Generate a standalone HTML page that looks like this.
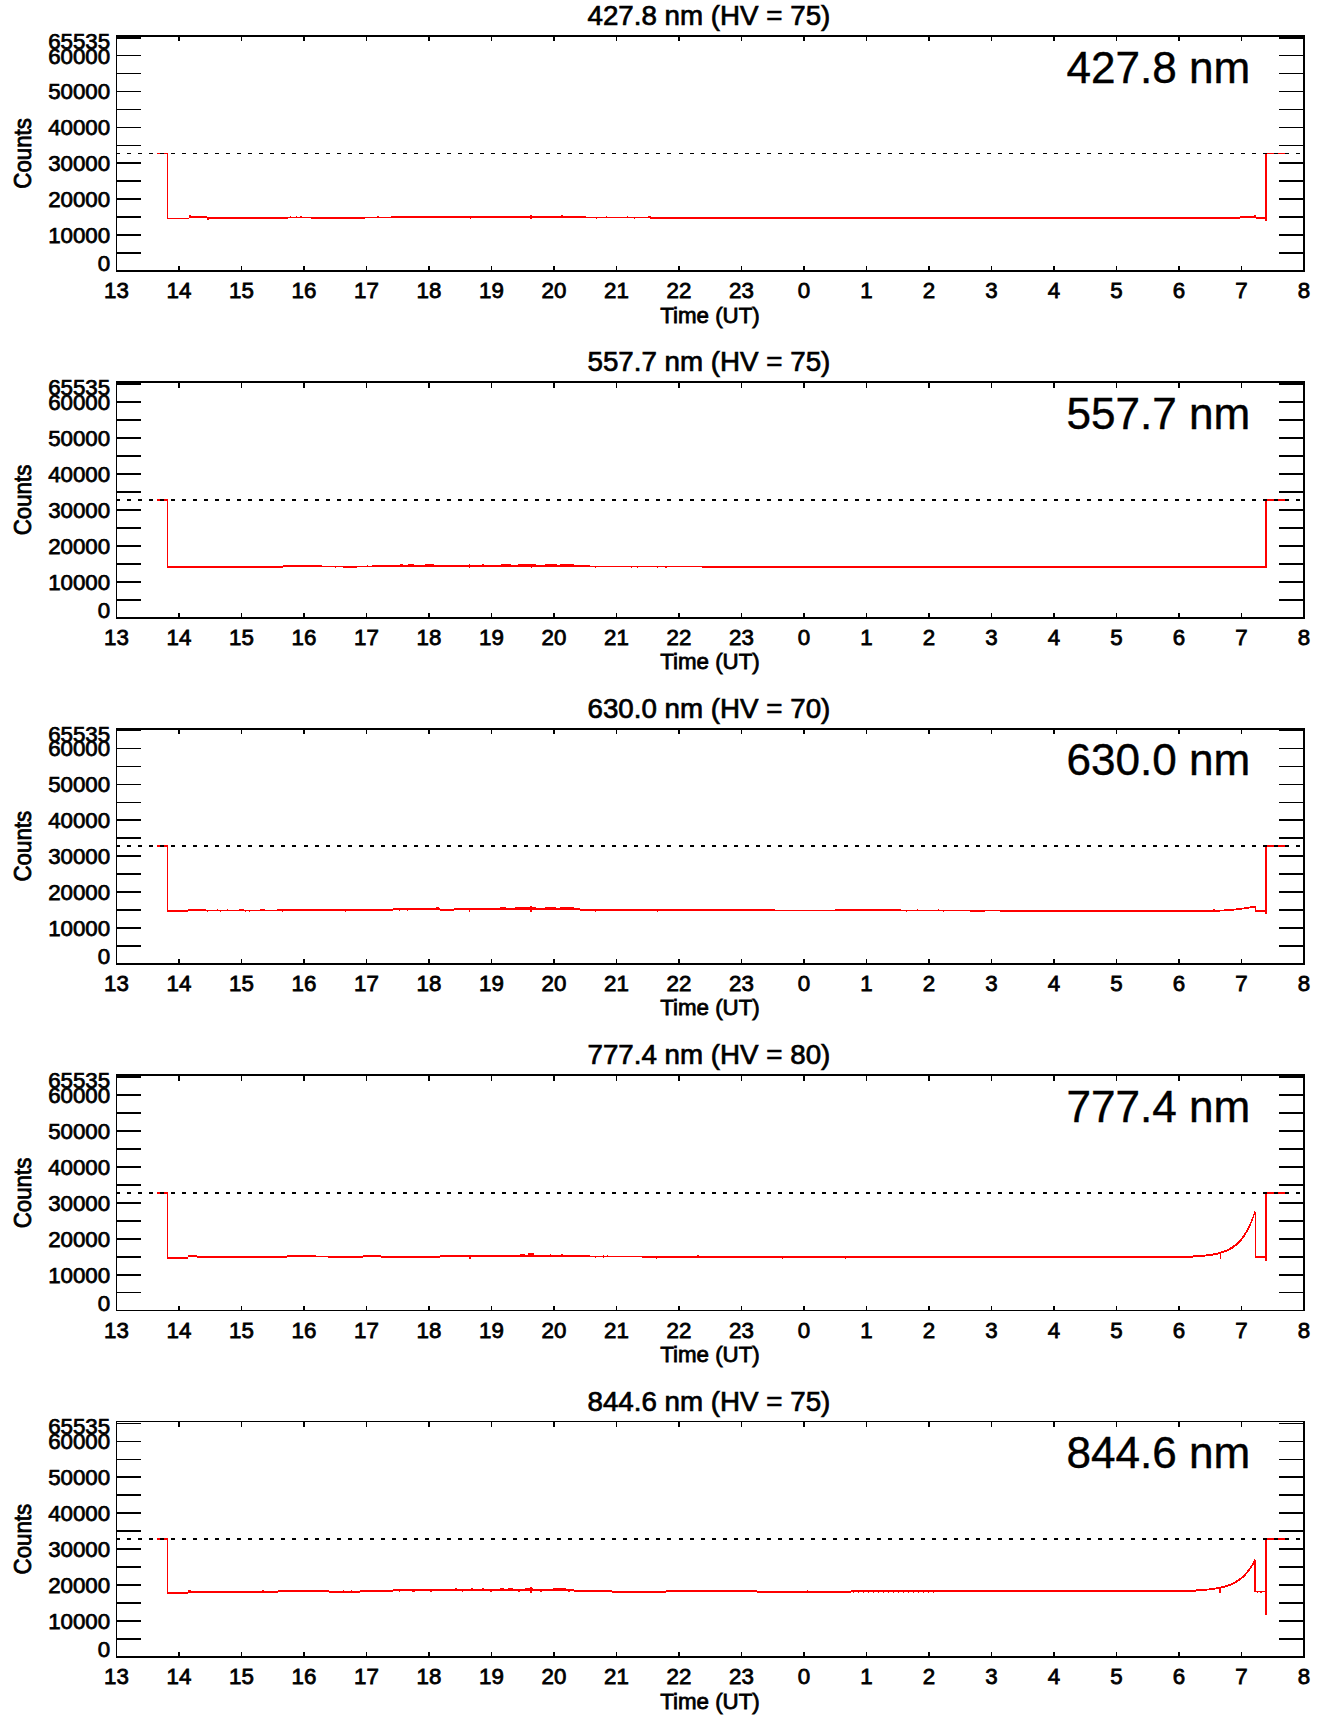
<!DOCTYPE html>
<html><head><meta charset="utf-8"><title>Photometer counts</title>
<style>
html,body{margin:0;padding:0;background:#fff;}
svg{display:block;}
svg text{font-family:"Liberation Sans",Arial,Helvetica,sans-serif;fill:#000;stroke:#000;stroke-width:0.8px;}
svg text.tt{stroke-width:0.7px;}
svg .tx text,svg text.tx{stroke-width:0.8px;}
svg .ty text{stroke-width:0.75px;}
svg text.tb{stroke-width:0.4px;}
svg rect{shape-rendering:crispEdges;}
</style></head><body>
<svg width="1336" height="1731" viewBox="0 0 1336 1731">
<rect x="0" y="0" width="1336" height="1731" fill="#fff"/>
<g fill="#f00">
<rect x="157" y="153" width="11" height="1"/>
<rect x="1265" y="153" width="20" height="1"/>
<rect x="167" y="153" width="1" height="66"/>
<rect x="168" y="218" width="21" height="1"/>
<rect x="189" y="215" width="2" height="3"/>
<rect x="191" y="216" width="16" height="2"/>
<rect x="207" y="217" width="2" height="3"/>
<rect x="209" y="217" width="79" height="2"/>
<rect x="288" y="217" width="2" height="1"/>
<rect x="290" y="216" width="1" height="2"/>
<rect x="291" y="217" width="5" height="1"/>
<rect x="296" y="216" width="1" height="2"/>
<rect x="297" y="217" width="3" height="1"/>
<rect x="300" y="216" width="2" height="2"/>
<rect x="302" y="217" width="9" height="1"/>
<rect x="311" y="217" width="54" height="2"/>
<rect x="365" y="217" width="12" height="1"/>
<rect x="377" y="216" width="2" height="2"/>
<rect x="379" y="217" width="12" height="1"/>
<rect x="391" y="216" width="79" height="2"/>
<rect x="470" y="216" width="1" height="3"/>
<rect x="471" y="216" width="59" height="2"/>
<rect x="530" y="215" width="2" height="4"/>
<rect x="532" y="216" width="29" height="2"/>
<rect x="561" y="215" width="2" height="3"/>
<rect x="563" y="216" width="23" height="2"/>
<rect x="586" y="217" width="10" height="1"/>
<rect x="596" y="217" width="1" height="2"/>
<rect x="597" y="217" width="9" height="1"/>
<rect x="606" y="216" width="1" height="2"/>
<rect x="607" y="217" width="20" height="1"/>
<rect x="627" y="216" width="1" height="2"/>
<rect x="628" y="217" width="6" height="1"/>
<rect x="634" y="217" width="1" height="2"/>
<rect x="635" y="217" width="13" height="1"/>
<rect x="648" y="216" width="2" height="2"/>
<rect x="650" y="216" width="1" height="3"/>
<rect x="651" y="217" width="589" height="2"/>
<rect x="1240" y="216" width="14" height="2"/>
<rect x="1254" y="215" width="2" height="3"/>
<rect x="1256" y="217" width="9" height="2"/>
<rect x="1265" y="153" width="2" height="68"/>
</g>
<g fill="#000">
<rect x="116" y="153" width="4" height="1"/>
<rect x="127" y="153" width="4" height="1"/>
<rect x="138" y="153" width="4" height="1"/>
<rect x="149" y="153" width="4" height="1"/>
<rect x="160" y="153" width="4" height="1"/>
<rect x="171" y="153" width="4" height="1"/>
<rect x="182" y="153" width="4" height="1"/>
<rect x="193" y="153" width="4" height="1"/>
<rect x="204" y="153" width="4" height="1"/>
<rect x="215" y="153" width="4" height="1"/>
<rect x="226" y="153" width="4" height="1"/>
<rect x="237" y="153" width="4" height="1"/>
<rect x="248" y="153" width="4" height="1"/>
<rect x="259" y="153" width="4" height="1"/>
<rect x="270" y="153" width="4" height="1"/>
<rect x="281" y="153" width="4" height="1"/>
<rect x="292" y="153" width="4" height="1"/>
<rect x="304" y="153" width="4" height="1"/>
<rect x="315" y="153" width="4" height="1"/>
<rect x="326" y="153" width="4" height="1"/>
<rect x="337" y="153" width="4" height="1"/>
<rect x="348" y="153" width="4" height="1"/>
<rect x="359" y="153" width="4" height="1"/>
<rect x="370" y="153" width="4" height="1"/>
<rect x="381" y="153" width="4" height="1"/>
<rect x="392" y="153" width="4" height="1"/>
<rect x="403" y="153" width="4" height="1"/>
<rect x="414" y="153" width="4" height="1"/>
<rect x="425" y="153" width="4" height="1"/>
<rect x="436" y="153" width="4" height="1"/>
<rect x="447" y="153" width="4" height="1"/>
<rect x="458" y="153" width="4" height="1"/>
<rect x="469" y="153" width="4" height="1"/>
<rect x="480" y="153" width="4" height="1"/>
<rect x="491" y="153" width="4" height="1"/>
<rect x="502" y="153" width="4" height="1"/>
<rect x="513" y="153" width="4" height="1"/>
<rect x="524" y="153" width="4" height="1"/>
<rect x="535" y="153" width="4" height="1"/>
<rect x="546" y="153" width="4" height="1"/>
<rect x="557" y="153" width="4" height="1"/>
<rect x="568" y="153" width="4" height="1"/>
<rect x="579" y="153" width="4" height="1"/>
<rect x="590" y="153" width="4" height="1"/>
<rect x="601" y="153" width="4" height="1"/>
<rect x="612" y="153" width="4" height="1"/>
<rect x="623" y="153" width="4" height="1"/>
<rect x="634" y="153" width="4" height="1"/>
<rect x="645" y="153" width="4" height="1"/>
<rect x="656" y="153" width="4" height="1"/>
<rect x="667" y="153" width="4" height="1"/>
<rect x="679" y="153" width="4" height="1"/>
<rect x="690" y="153" width="4" height="1"/>
<rect x="701" y="153" width="4" height="1"/>
<rect x="712" y="153" width="4" height="1"/>
<rect x="723" y="153" width="4" height="1"/>
<rect x="734" y="153" width="4" height="1"/>
<rect x="745" y="153" width="4" height="1"/>
<rect x="756" y="153" width="4" height="1"/>
<rect x="767" y="153" width="4" height="1"/>
<rect x="778" y="153" width="4" height="1"/>
<rect x="789" y="153" width="4" height="1"/>
<rect x="800" y="153" width="4" height="1"/>
<rect x="811" y="153" width="4" height="1"/>
<rect x="822" y="153" width="4" height="1"/>
<rect x="833" y="153" width="4" height="1"/>
<rect x="844" y="153" width="4" height="1"/>
<rect x="855" y="153" width="4" height="1"/>
<rect x="866" y="153" width="4" height="1"/>
<rect x="877" y="153" width="4" height="1"/>
<rect x="888" y="153" width="4" height="1"/>
<rect x="899" y="153" width="4" height="1"/>
<rect x="910" y="153" width="4" height="1"/>
<rect x="921" y="153" width="4" height="1"/>
<rect x="932" y="153" width="4" height="1"/>
<rect x="943" y="153" width="4" height="1"/>
<rect x="954" y="153" width="4" height="1"/>
<rect x="965" y="153" width="4" height="1"/>
<rect x="976" y="153" width="4" height="1"/>
<rect x="987" y="153" width="4" height="1"/>
<rect x="998" y="153" width="4" height="1"/>
<rect x="1009" y="153" width="4" height="1"/>
<rect x="1020" y="153" width="4" height="1"/>
<rect x="1031" y="153" width="4" height="1"/>
<rect x="1043" y="153" width="4" height="1"/>
<rect x="1054" y="153" width="4" height="1"/>
<rect x="1065" y="153" width="4" height="1"/>
<rect x="1076" y="153" width="4" height="1"/>
<rect x="1087" y="153" width="4" height="1"/>
<rect x="1098" y="153" width="4" height="1"/>
<rect x="1109" y="153" width="4" height="1"/>
<rect x="1120" y="153" width="4" height="1"/>
<rect x="1131" y="153" width="4" height="1"/>
<rect x="1142" y="153" width="4" height="1"/>
<rect x="1153" y="153" width="4" height="1"/>
<rect x="1164" y="153" width="4" height="1"/>
<rect x="1175" y="153" width="4" height="1"/>
<rect x="1186" y="153" width="4" height="1"/>
<rect x="1197" y="153" width="4" height="1"/>
<rect x="1208" y="153" width="4" height="1"/>
<rect x="1219" y="153" width="4" height="1"/>
<rect x="1230" y="153" width="4" height="1"/>
<rect x="1241" y="153" width="4" height="1"/>
<rect x="1252" y="153" width="4" height="1"/>
<rect x="1263" y="153" width="4" height="1"/>
<rect x="1274" y="153" width="4" height="1"/>
<rect x="1285" y="153" width="4" height="1"/>
<rect x="1296" y="153" width="4" height="1"/>
<rect x="116" y="35" width="1189" height="2"/>
<rect x="116" y="270" width="1189" height="2"/>
<rect x="116" y="35" width="1" height="237"/>
<rect x="1303" y="35" width="2" height="237"/>
<rect x="116" y="252" width="25" height="2"/>
<rect x="1279" y="252" width="25" height="2"/>
<rect x="116" y="234" width="25" height="2"/>
<rect x="1279" y="234" width="25" height="2"/>
<rect x="116" y="216" width="25" height="2"/>
<rect x="1279" y="216" width="25" height="2"/>
<rect x="116" y="198" width="25" height="2"/>
<rect x="1279" y="198" width="25" height="2"/>
<rect x="116" y="180" width="25" height="2"/>
<rect x="1279" y="180" width="25" height="2"/>
<rect x="116" y="162" width="25" height="2"/>
<rect x="1279" y="162" width="25" height="2"/>
<rect x="116" y="145" width="25" height="1"/>
<rect x="1279" y="145" width="25" height="1"/>
<rect x="116" y="127" width="25" height="1"/>
<rect x="1279" y="127" width="25" height="1"/>
<rect x="116" y="109" width="25" height="1"/>
<rect x="1279" y="109" width="25" height="1"/>
<rect x="116" y="91" width="25" height="1"/>
<rect x="1279" y="91" width="25" height="1"/>
<rect x="116" y="73" width="25" height="1"/>
<rect x="1279" y="73" width="25" height="1"/>
<rect x="116" y="55" width="25" height="1"/>
<rect x="1279" y="55" width="25" height="1"/>
<rect x="116" y="37" width="25" height="2"/>
<rect x="1279" y="37" width="25" height="2"/>
<rect x="178" y="266" width="2" height="6"/>
<rect x="178" y="35" width="2" height="6"/>
<rect x="241" y="266" width="1" height="6"/>
<rect x="241" y="35" width="1" height="6"/>
<rect x="303" y="266" width="2" height="6"/>
<rect x="303" y="35" width="2" height="6"/>
<rect x="366" y="266" width="1" height="6"/>
<rect x="366" y="35" width="1" height="6"/>
<rect x="428" y="266" width="2" height="6"/>
<rect x="428" y="35" width="2" height="6"/>
<rect x="491" y="266" width="1" height="6"/>
<rect x="491" y="35" width="1" height="6"/>
<rect x="553" y="266" width="2" height="6"/>
<rect x="553" y="35" width="2" height="6"/>
<rect x="616" y="266" width="1" height="6"/>
<rect x="616" y="35" width="1" height="6"/>
<rect x="678" y="266" width="2" height="6"/>
<rect x="678" y="35" width="2" height="6"/>
<rect x="741" y="266" width="1" height="6"/>
<rect x="741" y="35" width="1" height="6"/>
<rect x="803" y="266" width="2" height="6"/>
<rect x="803" y="35" width="2" height="6"/>
<rect x="866" y="266" width="1" height="6"/>
<rect x="866" y="35" width="1" height="6"/>
<rect x="928" y="266" width="2" height="6"/>
<rect x="928" y="35" width="2" height="6"/>
<rect x="991" y="266" width="1" height="6"/>
<rect x="991" y="35" width="1" height="6"/>
<rect x="1053" y="266" width="2" height="6"/>
<rect x="1053" y="35" width="2" height="6"/>
<rect x="1116" y="266" width="1" height="6"/>
<rect x="1116" y="35" width="1" height="6"/>
<rect x="1178" y="266" width="2" height="6"/>
<rect x="1178" y="35" width="2" height="6"/>
<rect x="1241" y="266" width="1" height="6"/>
<rect x="1241" y="35" width="1" height="6"/>
</g>
<text transform="translate(708.9,25.0) scale(1.02,1)" font-size="27.2" text-anchor="middle" class="tt">427.8 nm (HV = 75)</text>
<text x="1250.3" y="82.6" font-size="44.1" text-anchor="end" class="tb">427.8 nm</text>
<text x="710" y="322.6" font-size="22.3" text-anchor="middle" class="tx">Time (UT)</text>
<text transform="translate(30.6,153.4) rotate(-90) scale(1,1.05)" font-size="22.3" text-anchor="middle">Counts</text>
<g font-size="22.3" text-anchor="middle" class="tx">
<text x="116.5" y="298.4">13</text>
<text x="179.0" y="298.4">14</text>
<text x="241.5" y="298.4">15</text>
<text x="304.0" y="298.4">16</text>
<text x="366.5" y="298.4">17</text>
<text x="429.0" y="298.4">18</text>
<text x="491.5" y="298.4">19</text>
<text x="554.0" y="298.4">20</text>
<text x="616.5" y="298.4">21</text>
<text x="679.0" y="298.4">22</text>
<text x="741.5" y="298.4">23</text>
<text x="804.0" y="298.4">0</text>
<text x="866.5" y="298.4">1</text>
<text x="929.0" y="298.4">2</text>
<text x="991.5" y="298.4">3</text>
<text x="1054.0" y="298.4">4</text>
<text x="1116.5" y="298.4">5</text>
<text x="1179.0" y="298.4">6</text>
<text x="1241.5" y="298.4">7</text>
<text x="1304.0" y="298.4">8</text>
</g>
<g font-size="22.3" text-anchor="end" class="ty">
<text x="110.2" y="271.3">0</text>
<text x="110.2" y="242.8">10000</text>
<text x="110.2" y="206.9">20000</text>
<text x="110.2" y="171.1">30000</text>
<text x="110.2" y="135.2">40000</text>
<text x="110.2" y="99.4">50000</text>
<text x="110.2" y="63.5">60000</text>
<text x="110.2" y="48.8">65535</text>
</g>
<g fill="#f00">
<rect x="157" y="499" width="11" height="2"/>
<rect x="1265" y="499" width="20" height="2"/>
<rect x="167" y="499" width="1" height="69"/>
<rect x="168" y="566" width="115" height="2"/>
<rect x="283" y="565" width="39" height="2"/>
<rect x="322" y="566" width="13" height="1"/>
<rect x="335" y="566" width="1" height="2"/>
<rect x="336" y="566" width="7" height="1"/>
<rect x="343" y="566" width="14" height="2"/>
<rect x="357" y="566" width="10" height="1"/>
<rect x="367" y="565" width="1" height="2"/>
<rect x="368" y="566" width="4" height="1"/>
<rect x="372" y="565" width="28" height="2"/>
<rect x="400" y="564" width="3" height="3"/>
<rect x="403" y="565" width="5" height="2"/>
<rect x="408" y="564" width="6" height="3"/>
<rect x="414" y="565" width="11" height="2"/>
<rect x="425" y="564" width="9" height="3"/>
<rect x="434" y="565" width="35" height="2"/>
<rect x="469" y="564" width="1" height="4"/>
<rect x="470" y="565" width="12" height="2"/>
<rect x="482" y="564" width="2" height="3"/>
<rect x="484" y="565" width="17" height="2"/>
<rect x="501" y="564" width="10" height="3"/>
<rect x="511" y="565" width="7" height="2"/>
<rect x="518" y="564" width="13" height="3"/>
<rect x="531" y="564" width="1" height="4"/>
<rect x="532" y="564" width="4" height="3"/>
<rect x="536" y="565" width="9" height="2"/>
<rect x="545" y="564" width="12" height="3"/>
<rect x="557" y="565" width="3" height="2"/>
<rect x="560" y="564" width="14" height="3"/>
<rect x="574" y="565" width="16" height="2"/>
<rect x="590" y="566" width="5" height="1"/>
<rect x="595" y="566" width="1" height="2"/>
<rect x="596" y="566" width="35" height="1"/>
<rect x="631" y="566" width="1" height="2"/>
<rect x="632" y="566" width="5" height="1"/>
<rect x="637" y="566" width="1" height="2"/>
<rect x="638" y="566" width="19" height="1"/>
<rect x="657" y="566" width="1" height="2"/>
<rect x="658" y="566" width="7" height="1"/>
<rect x="665" y="566" width="2" height="2"/>
<rect x="667" y="566" width="35" height="1"/>
<rect x="702" y="566" width="563" height="2"/>
<rect x="1265" y="499" width="2" height="69"/>
</g>
<g fill="#000">
<rect x="116" y="499" width="4" height="2"/>
<rect x="127" y="499" width="4" height="2"/>
<rect x="138" y="499" width="4" height="2"/>
<rect x="149" y="499" width="4" height="2"/>
<rect x="160" y="499" width="4" height="2"/>
<rect x="171" y="499" width="4" height="2"/>
<rect x="182" y="499" width="4" height="2"/>
<rect x="193" y="499" width="4" height="2"/>
<rect x="204" y="499" width="4" height="2"/>
<rect x="215" y="499" width="4" height="2"/>
<rect x="226" y="499" width="4" height="2"/>
<rect x="237" y="499" width="4" height="2"/>
<rect x="248" y="499" width="4" height="2"/>
<rect x="259" y="499" width="4" height="2"/>
<rect x="270" y="499" width="4" height="2"/>
<rect x="281" y="499" width="4" height="2"/>
<rect x="292" y="499" width="4" height="2"/>
<rect x="304" y="499" width="4" height="2"/>
<rect x="315" y="499" width="4" height="2"/>
<rect x="326" y="499" width="4" height="2"/>
<rect x="337" y="499" width="4" height="2"/>
<rect x="348" y="499" width="4" height="2"/>
<rect x="359" y="499" width="4" height="2"/>
<rect x="370" y="499" width="4" height="2"/>
<rect x="381" y="499" width="4" height="2"/>
<rect x="392" y="499" width="4" height="2"/>
<rect x="403" y="499" width="4" height="2"/>
<rect x="414" y="499" width="4" height="2"/>
<rect x="425" y="499" width="4" height="2"/>
<rect x="436" y="499" width="4" height="2"/>
<rect x="447" y="499" width="4" height="2"/>
<rect x="458" y="499" width="4" height="2"/>
<rect x="469" y="499" width="4" height="2"/>
<rect x="480" y="499" width="4" height="2"/>
<rect x="491" y="499" width="4" height="2"/>
<rect x="502" y="499" width="4" height="2"/>
<rect x="513" y="499" width="4" height="2"/>
<rect x="524" y="499" width="4" height="2"/>
<rect x="535" y="499" width="4" height="2"/>
<rect x="546" y="499" width="4" height="2"/>
<rect x="557" y="499" width="4" height="2"/>
<rect x="568" y="499" width="4" height="2"/>
<rect x="579" y="499" width="4" height="2"/>
<rect x="590" y="499" width="4" height="2"/>
<rect x="601" y="499" width="4" height="2"/>
<rect x="612" y="499" width="4" height="2"/>
<rect x="623" y="499" width="4" height="2"/>
<rect x="634" y="499" width="4" height="2"/>
<rect x="645" y="499" width="4" height="2"/>
<rect x="656" y="499" width="4" height="2"/>
<rect x="667" y="499" width="4" height="2"/>
<rect x="679" y="499" width="4" height="2"/>
<rect x="690" y="499" width="4" height="2"/>
<rect x="701" y="499" width="4" height="2"/>
<rect x="712" y="499" width="4" height="2"/>
<rect x="723" y="499" width="4" height="2"/>
<rect x="734" y="499" width="4" height="2"/>
<rect x="745" y="499" width="4" height="2"/>
<rect x="756" y="499" width="4" height="2"/>
<rect x="767" y="499" width="4" height="2"/>
<rect x="778" y="499" width="4" height="2"/>
<rect x="789" y="499" width="4" height="2"/>
<rect x="800" y="499" width="4" height="2"/>
<rect x="811" y="499" width="4" height="2"/>
<rect x="822" y="499" width="4" height="2"/>
<rect x="833" y="499" width="4" height="2"/>
<rect x="844" y="499" width="4" height="2"/>
<rect x="855" y="499" width="4" height="2"/>
<rect x="866" y="499" width="4" height="2"/>
<rect x="877" y="499" width="4" height="2"/>
<rect x="888" y="499" width="4" height="2"/>
<rect x="899" y="499" width="4" height="2"/>
<rect x="910" y="499" width="4" height="2"/>
<rect x="921" y="499" width="4" height="2"/>
<rect x="932" y="499" width="4" height="2"/>
<rect x="943" y="499" width="4" height="2"/>
<rect x="954" y="499" width="4" height="2"/>
<rect x="965" y="499" width="4" height="2"/>
<rect x="976" y="499" width="4" height="2"/>
<rect x="987" y="499" width="4" height="2"/>
<rect x="998" y="499" width="4" height="2"/>
<rect x="1009" y="499" width="4" height="2"/>
<rect x="1020" y="499" width="4" height="2"/>
<rect x="1031" y="499" width="4" height="2"/>
<rect x="1043" y="499" width="4" height="2"/>
<rect x="1054" y="499" width="4" height="2"/>
<rect x="1065" y="499" width="4" height="2"/>
<rect x="1076" y="499" width="4" height="2"/>
<rect x="1087" y="499" width="4" height="2"/>
<rect x="1098" y="499" width="4" height="2"/>
<rect x="1109" y="499" width="4" height="2"/>
<rect x="1120" y="499" width="4" height="2"/>
<rect x="1131" y="499" width="4" height="2"/>
<rect x="1142" y="499" width="4" height="2"/>
<rect x="1153" y="499" width="4" height="2"/>
<rect x="1164" y="499" width="4" height="2"/>
<rect x="1175" y="499" width="4" height="2"/>
<rect x="1186" y="499" width="4" height="2"/>
<rect x="1197" y="499" width="4" height="2"/>
<rect x="1208" y="499" width="4" height="2"/>
<rect x="1219" y="499" width="4" height="2"/>
<rect x="1230" y="499" width="4" height="2"/>
<rect x="1241" y="499" width="4" height="2"/>
<rect x="1252" y="499" width="4" height="2"/>
<rect x="1263" y="499" width="4" height="2"/>
<rect x="1274" y="499" width="4" height="2"/>
<rect x="1285" y="499" width="4" height="2"/>
<rect x="1296" y="499" width="4" height="2"/>
<rect x="116" y="381" width="1189" height="2"/>
<rect x="116" y="617" width="1189" height="2"/>
<rect x="116" y="381" width="1" height="238"/>
<rect x="1303" y="381" width="2" height="238"/>
<rect x="116" y="599" width="25" height="2"/>
<rect x="1279" y="599" width="25" height="2"/>
<rect x="116" y="581" width="25" height="2"/>
<rect x="1279" y="581" width="25" height="2"/>
<rect x="116" y="563" width="25" height="2"/>
<rect x="1279" y="563" width="25" height="2"/>
<rect x="116" y="545" width="25" height="2"/>
<rect x="1279" y="545" width="25" height="2"/>
<rect x="116" y="527" width="25" height="2"/>
<rect x="1279" y="527" width="25" height="2"/>
<rect x="116" y="509" width="25" height="2"/>
<rect x="1279" y="509" width="25" height="2"/>
<rect x="116" y="491" width="25" height="2"/>
<rect x="1279" y="491" width="25" height="2"/>
<rect x="116" y="473" width="25" height="2"/>
<rect x="1279" y="473" width="25" height="2"/>
<rect x="116" y="455" width="25" height="2"/>
<rect x="1279" y="455" width="25" height="2"/>
<rect x="116" y="437" width="25" height="2"/>
<rect x="1279" y="437" width="25" height="2"/>
<rect x="116" y="419" width="25" height="2"/>
<rect x="1279" y="419" width="25" height="2"/>
<rect x="116" y="401" width="25" height="2"/>
<rect x="1279" y="401" width="25" height="2"/>
<rect x="116" y="383" width="25" height="2"/>
<rect x="1279" y="383" width="25" height="2"/>
<rect x="178" y="613" width="2" height="6"/>
<rect x="178" y="381" width="2" height="7"/>
<rect x="241" y="613" width="1" height="6"/>
<rect x="241" y="381" width="1" height="7"/>
<rect x="303" y="613" width="2" height="6"/>
<rect x="303" y="381" width="2" height="7"/>
<rect x="366" y="613" width="1" height="6"/>
<rect x="366" y="381" width="1" height="7"/>
<rect x="428" y="613" width="2" height="6"/>
<rect x="428" y="381" width="2" height="7"/>
<rect x="491" y="613" width="1" height="6"/>
<rect x="491" y="381" width="1" height="7"/>
<rect x="553" y="613" width="2" height="6"/>
<rect x="553" y="381" width="2" height="7"/>
<rect x="616" y="613" width="1" height="6"/>
<rect x="616" y="381" width="1" height="7"/>
<rect x="678" y="613" width="2" height="6"/>
<rect x="678" y="381" width="2" height="7"/>
<rect x="741" y="613" width="1" height="6"/>
<rect x="741" y="381" width="1" height="7"/>
<rect x="803" y="613" width="2" height="6"/>
<rect x="803" y="381" width="2" height="7"/>
<rect x="866" y="613" width="1" height="6"/>
<rect x="866" y="381" width="1" height="7"/>
<rect x="928" y="613" width="2" height="6"/>
<rect x="928" y="381" width="2" height="7"/>
<rect x="991" y="613" width="1" height="6"/>
<rect x="991" y="381" width="1" height="7"/>
<rect x="1053" y="613" width="2" height="6"/>
<rect x="1053" y="381" width="2" height="7"/>
<rect x="1116" y="613" width="1" height="6"/>
<rect x="1116" y="381" width="1" height="7"/>
<rect x="1178" y="613" width="2" height="6"/>
<rect x="1178" y="381" width="2" height="7"/>
<rect x="1241" y="613" width="1" height="6"/>
<rect x="1241" y="381" width="1" height="7"/>
</g>
<text transform="translate(708.9,371.4) scale(1.02,1)" font-size="27.2" text-anchor="middle" class="tt">557.7 nm (HV = 75)</text>
<text x="1250.3" y="429.0" font-size="44.1" text-anchor="end" class="tb">557.7 nm</text>
<text x="710" y="669.4" font-size="22.3" text-anchor="middle" class="tx">Time (UT)</text>
<text transform="translate(30.6,500.0) rotate(-90) scale(1,1.05)" font-size="22.3" text-anchor="middle">Counts</text>
<g font-size="22.3" text-anchor="middle" class="tx">
<text x="116.5" y="645.2">13</text>
<text x="179.0" y="645.2">14</text>
<text x="241.5" y="645.2">15</text>
<text x="304.0" y="645.2">16</text>
<text x="366.5" y="645.2">17</text>
<text x="429.0" y="645.2">18</text>
<text x="491.5" y="645.2">19</text>
<text x="554.0" y="645.2">20</text>
<text x="616.5" y="645.2">21</text>
<text x="679.0" y="645.2">22</text>
<text x="741.5" y="645.2">23</text>
<text x="804.0" y="645.2">0</text>
<text x="866.5" y="645.2">1</text>
<text x="929.0" y="645.2">2</text>
<text x="991.5" y="645.2">3</text>
<text x="1054.0" y="645.2">4</text>
<text x="1116.5" y="645.2">5</text>
<text x="1179.0" y="645.2">6</text>
<text x="1241.5" y="645.2">7</text>
<text x="1304.0" y="645.2">8</text>
</g>
<g font-size="22.3" text-anchor="end" class="ty">
<text x="110.2" y="618.1">0</text>
<text x="110.2" y="589.6">10000</text>
<text x="110.2" y="553.7">20000</text>
<text x="110.2" y="517.7">30000</text>
<text x="110.2" y="481.8">40000</text>
<text x="110.2" y="445.9">50000</text>
<text x="110.2" y="410.0">60000</text>
<text x="110.2" y="395.2">65535</text>
</g>
<g fill="#f00">
<rect x="157" y="845" width="11" height="2"/>
<rect x="1265" y="845" width="20" height="2"/>
<rect x="167" y="845" width="1" height="67"/>
<rect x="168" y="910" width="20" height="2"/>
<rect x="188" y="909" width="18" height="2"/>
<rect x="206" y="910" width="1" height="1"/>
<rect x="207" y="910" width="1" height="2"/>
<rect x="208" y="910" width="9" height="1"/>
<rect x="217" y="909" width="1" height="2"/>
<rect x="218" y="910" width="2" height="1"/>
<rect x="220" y="910" width="1" height="2"/>
<rect x="221" y="910" width="6" height="1"/>
<rect x="227" y="909" width="1" height="2"/>
<rect x="228" y="910" width="11" height="1"/>
<rect x="239" y="909" width="5" height="2"/>
<rect x="244" y="910" width="1" height="1"/>
<rect x="245" y="910" width="1" height="2"/>
<rect x="246" y="910" width="3" height="1"/>
<rect x="249" y="910" width="1" height="2"/>
<rect x="250" y="910" width="10" height="1"/>
<rect x="260" y="909" width="5" height="2"/>
<rect x="265" y="910" width="12" height="1"/>
<rect x="277" y="909" width="5" height="2"/>
<rect x="282" y="909" width="1" height="3"/>
<rect x="283" y="909" width="62" height="2"/>
<rect x="345" y="909" width="1" height="3"/>
<rect x="346" y="909" width="47" height="2"/>
<rect x="393" y="908" width="6" height="2"/>
<rect x="399" y="908" width="1" height="3"/>
<rect x="400" y="908" width="7" height="2"/>
<rect x="407" y="908" width="1" height="3"/>
<rect x="408" y="908" width="28" height="2"/>
<rect x="436" y="907" width="3" height="3"/>
<rect x="439" y="908" width="1" height="2"/>
<rect x="440" y="909" width="14" height="2"/>
<rect x="454" y="908" width="15" height="2"/>
<rect x="469" y="908" width="1" height="4"/>
<rect x="470" y="908" width="30" height="2"/>
<rect x="500" y="907" width="6" height="3"/>
<rect x="506" y="908" width="9" height="2"/>
<rect x="515" y="907" width="15" height="3"/>
<rect x="530" y="906" width="2" height="6"/>
<rect x="532" y="907" width="4" height="3"/>
<rect x="536" y="908" width="9" height="2"/>
<rect x="545" y="907" width="11" height="3"/>
<rect x="556" y="908" width="4" height="2"/>
<rect x="560" y="907" width="14" height="3"/>
<rect x="574" y="908" width="6" height="2"/>
<rect x="580" y="909" width="15" height="2"/>
<rect x="595" y="909" width="1" height="3"/>
<rect x="596" y="909" width="61" height="2"/>
<rect x="657" y="909" width="1" height="3"/>
<rect x="658" y="909" width="117" height="2"/>
<rect x="775" y="910" width="60" height="1"/>
<rect x="835" y="909" width="66" height="2"/>
<rect x="901" y="910" width="5" height="1"/>
<rect x="906" y="910" width="1" height="2"/>
<rect x="907" y="910" width="10" height="1"/>
<rect x="917" y="909" width="1" height="2"/>
<rect x="918" y="910" width="20" height="1"/>
<rect x="938" y="909" width="1" height="2"/>
<rect x="939" y="910" width="4" height="1"/>
<rect x="943" y="910" width="1" height="2"/>
<rect x="944" y="910" width="26" height="1"/>
<rect x="970" y="910" width="15" height="2"/>
<rect x="985" y="910" width="15" height="1"/>
<rect x="1000" y="910" width="213" height="2"/>
<rect x="1213" y="909" width="2" height="3"/>
<rect x="1215" y="910" width="5" height="2"/>
<rect x="1220" y="910" width="4" height="1"/>
<rect x="1224" y="909" width="10" height="2"/>
<rect x="1234" y="909" width="2" height="1"/>
<rect x="1236" y="908" width="6" height="2"/>
<rect x="1242" y="908" width="2" height="1"/>
<rect x="1244" y="907" width="5" height="2"/>
<rect x="1249" y="907" width="1" height="1"/>
<rect x="1250" y="906" width="5" height="2"/>
<rect x="1255" y="906" width="1" height="6"/>
<rect x="1256" y="910" width="9" height="2"/>
<rect x="1265" y="845" width="2" height="69"/>
</g>
<g fill="#000">
<rect x="116" y="845" width="4" height="2"/>
<rect x="127" y="845" width="4" height="2"/>
<rect x="138" y="845" width="4" height="2"/>
<rect x="149" y="845" width="4" height="2"/>
<rect x="160" y="845" width="4" height="2"/>
<rect x="171" y="845" width="4" height="2"/>
<rect x="182" y="845" width="4" height="2"/>
<rect x="193" y="845" width="4" height="2"/>
<rect x="204" y="845" width="4" height="2"/>
<rect x="215" y="845" width="4" height="2"/>
<rect x="226" y="845" width="4" height="2"/>
<rect x="237" y="845" width="4" height="2"/>
<rect x="248" y="845" width="4" height="2"/>
<rect x="259" y="845" width="4" height="2"/>
<rect x="270" y="845" width="4" height="2"/>
<rect x="281" y="845" width="4" height="2"/>
<rect x="292" y="845" width="4" height="2"/>
<rect x="304" y="845" width="4" height="2"/>
<rect x="315" y="845" width="4" height="2"/>
<rect x="326" y="845" width="4" height="2"/>
<rect x="337" y="845" width="4" height="2"/>
<rect x="348" y="845" width="4" height="2"/>
<rect x="359" y="845" width="4" height="2"/>
<rect x="370" y="845" width="4" height="2"/>
<rect x="381" y="845" width="4" height="2"/>
<rect x="392" y="845" width="4" height="2"/>
<rect x="403" y="845" width="4" height="2"/>
<rect x="414" y="845" width="4" height="2"/>
<rect x="425" y="845" width="4" height="2"/>
<rect x="436" y="845" width="4" height="2"/>
<rect x="447" y="845" width="4" height="2"/>
<rect x="458" y="845" width="4" height="2"/>
<rect x="469" y="845" width="4" height="2"/>
<rect x="480" y="845" width="4" height="2"/>
<rect x="491" y="845" width="4" height="2"/>
<rect x="502" y="845" width="4" height="2"/>
<rect x="513" y="845" width="4" height="2"/>
<rect x="524" y="845" width="4" height="2"/>
<rect x="535" y="845" width="4" height="2"/>
<rect x="546" y="845" width="4" height="2"/>
<rect x="557" y="845" width="4" height="2"/>
<rect x="568" y="845" width="4" height="2"/>
<rect x="579" y="845" width="4" height="2"/>
<rect x="590" y="845" width="4" height="2"/>
<rect x="601" y="845" width="4" height="2"/>
<rect x="612" y="845" width="4" height="2"/>
<rect x="623" y="845" width="4" height="2"/>
<rect x="634" y="845" width="4" height="2"/>
<rect x="645" y="845" width="4" height="2"/>
<rect x="656" y="845" width="4" height="2"/>
<rect x="667" y="845" width="4" height="2"/>
<rect x="679" y="845" width="4" height="2"/>
<rect x="690" y="845" width="4" height="2"/>
<rect x="701" y="845" width="4" height="2"/>
<rect x="712" y="845" width="4" height="2"/>
<rect x="723" y="845" width="4" height="2"/>
<rect x="734" y="845" width="4" height="2"/>
<rect x="745" y="845" width="4" height="2"/>
<rect x="756" y="845" width="4" height="2"/>
<rect x="767" y="845" width="4" height="2"/>
<rect x="778" y="845" width="4" height="2"/>
<rect x="789" y="845" width="4" height="2"/>
<rect x="800" y="845" width="4" height="2"/>
<rect x="811" y="845" width="4" height="2"/>
<rect x="822" y="845" width="4" height="2"/>
<rect x="833" y="845" width="4" height="2"/>
<rect x="844" y="845" width="4" height="2"/>
<rect x="855" y="845" width="4" height="2"/>
<rect x="866" y="845" width="4" height="2"/>
<rect x="877" y="845" width="4" height="2"/>
<rect x="888" y="845" width="4" height="2"/>
<rect x="899" y="845" width="4" height="2"/>
<rect x="910" y="845" width="4" height="2"/>
<rect x="921" y="845" width="4" height="2"/>
<rect x="932" y="845" width="4" height="2"/>
<rect x="943" y="845" width="4" height="2"/>
<rect x="954" y="845" width="4" height="2"/>
<rect x="965" y="845" width="4" height="2"/>
<rect x="976" y="845" width="4" height="2"/>
<rect x="987" y="845" width="4" height="2"/>
<rect x="998" y="845" width="4" height="2"/>
<rect x="1009" y="845" width="4" height="2"/>
<rect x="1020" y="845" width="4" height="2"/>
<rect x="1031" y="845" width="4" height="2"/>
<rect x="1043" y="845" width="4" height="2"/>
<rect x="1054" y="845" width="4" height="2"/>
<rect x="1065" y="845" width="4" height="2"/>
<rect x="1076" y="845" width="4" height="2"/>
<rect x="1087" y="845" width="4" height="2"/>
<rect x="1098" y="845" width="4" height="2"/>
<rect x="1109" y="845" width="4" height="2"/>
<rect x="1120" y="845" width="4" height="2"/>
<rect x="1131" y="845" width="4" height="2"/>
<rect x="1142" y="845" width="4" height="2"/>
<rect x="1153" y="845" width="4" height="2"/>
<rect x="1164" y="845" width="4" height="2"/>
<rect x="1175" y="845" width="4" height="2"/>
<rect x="1186" y="845" width="4" height="2"/>
<rect x="1197" y="845" width="4" height="2"/>
<rect x="1208" y="845" width="4" height="2"/>
<rect x="1219" y="845" width="4" height="2"/>
<rect x="1230" y="845" width="4" height="2"/>
<rect x="1241" y="845" width="4" height="2"/>
<rect x="1252" y="845" width="4" height="2"/>
<rect x="1263" y="845" width="4" height="2"/>
<rect x="1274" y="845" width="4" height="2"/>
<rect x="1285" y="845" width="4" height="2"/>
<rect x="1296" y="845" width="4" height="2"/>
<rect x="116" y="728" width="1189" height="2"/>
<rect x="116" y="963" width="1189" height="2"/>
<rect x="116" y="728" width="1" height="237"/>
<rect x="1303" y="728" width="2" height="237"/>
<rect x="116" y="945" width="25" height="2"/>
<rect x="1279" y="945" width="25" height="2"/>
<rect x="116" y="927" width="25" height="2"/>
<rect x="1279" y="927" width="25" height="2"/>
<rect x="116" y="909" width="25" height="2"/>
<rect x="1279" y="909" width="25" height="2"/>
<rect x="116" y="891" width="25" height="2"/>
<rect x="1279" y="891" width="25" height="2"/>
<rect x="116" y="873" width="25" height="2"/>
<rect x="1279" y="873" width="25" height="2"/>
<rect x="116" y="855" width="25" height="2"/>
<rect x="1279" y="855" width="25" height="2"/>
<rect x="116" y="837" width="25" height="2"/>
<rect x="1279" y="837" width="25" height="2"/>
<rect x="116" y="819" width="25" height="2"/>
<rect x="1279" y="819" width="25" height="2"/>
<rect x="116" y="802" width="25" height="1"/>
<rect x="1279" y="802" width="25" height="1"/>
<rect x="116" y="784" width="25" height="1"/>
<rect x="1279" y="784" width="25" height="1"/>
<rect x="116" y="766" width="25" height="1"/>
<rect x="1279" y="766" width="25" height="1"/>
<rect x="116" y="748" width="25" height="1"/>
<rect x="1279" y="748" width="25" height="1"/>
<rect x="116" y="730" width="25" height="1"/>
<rect x="1279" y="730" width="25" height="1"/>
<rect x="178" y="959" width="2" height="6"/>
<rect x="178" y="728" width="2" height="6"/>
<rect x="241" y="959" width="1" height="6"/>
<rect x="241" y="728" width="1" height="6"/>
<rect x="303" y="959" width="2" height="6"/>
<rect x="303" y="728" width="2" height="6"/>
<rect x="366" y="959" width="1" height="6"/>
<rect x="366" y="728" width="1" height="6"/>
<rect x="428" y="959" width="2" height="6"/>
<rect x="428" y="728" width="2" height="6"/>
<rect x="491" y="959" width="1" height="6"/>
<rect x="491" y="728" width="1" height="6"/>
<rect x="553" y="959" width="2" height="6"/>
<rect x="553" y="728" width="2" height="6"/>
<rect x="616" y="959" width="1" height="6"/>
<rect x="616" y="728" width="1" height="6"/>
<rect x="678" y="959" width="2" height="6"/>
<rect x="678" y="728" width="2" height="6"/>
<rect x="741" y="959" width="1" height="6"/>
<rect x="741" y="728" width="1" height="6"/>
<rect x="803" y="959" width="2" height="6"/>
<rect x="803" y="728" width="2" height="6"/>
<rect x="866" y="959" width="1" height="6"/>
<rect x="866" y="728" width="1" height="6"/>
<rect x="928" y="959" width="2" height="6"/>
<rect x="928" y="728" width="2" height="6"/>
<rect x="991" y="959" width="1" height="6"/>
<rect x="991" y="728" width="1" height="6"/>
<rect x="1053" y="959" width="2" height="6"/>
<rect x="1053" y="728" width="2" height="6"/>
<rect x="1116" y="959" width="1" height="6"/>
<rect x="1116" y="728" width="1" height="6"/>
<rect x="1178" y="959" width="2" height="6"/>
<rect x="1178" y="728" width="2" height="6"/>
<rect x="1241" y="959" width="1" height="6"/>
<rect x="1241" y="728" width="1" height="6"/>
</g>
<text transform="translate(708.9,717.8) scale(1.02,1)" font-size="27.2" text-anchor="middle" class="tt">630.0 nm (HV = 70)</text>
<text x="1250.3" y="775.4" font-size="44.1" text-anchor="end" class="tb">630.0 nm</text>
<text x="710" y="1015.4" font-size="22.3" text-anchor="middle" class="tx">Time (UT)</text>
<text transform="translate(30.6,846.2) rotate(-90) scale(1,1.05)" font-size="22.3" text-anchor="middle">Counts</text>
<g font-size="22.3" text-anchor="middle" class="tx">
<text x="116.5" y="991.2">13</text>
<text x="179.0" y="991.2">14</text>
<text x="241.5" y="991.2">15</text>
<text x="304.0" y="991.2">16</text>
<text x="366.5" y="991.2">17</text>
<text x="429.0" y="991.2">18</text>
<text x="491.5" y="991.2">19</text>
<text x="554.0" y="991.2">20</text>
<text x="616.5" y="991.2">21</text>
<text x="679.0" y="991.2">22</text>
<text x="741.5" y="991.2">23</text>
<text x="804.0" y="991.2">0</text>
<text x="866.5" y="991.2">1</text>
<text x="929.0" y="991.2">2</text>
<text x="991.5" y="991.2">3</text>
<text x="1054.0" y="991.2">4</text>
<text x="1116.5" y="991.2">5</text>
<text x="1179.0" y="991.2">6</text>
<text x="1241.5" y="991.2">7</text>
<text x="1304.0" y="991.2">8</text>
</g>
<g font-size="22.3" text-anchor="end" class="ty">
<text x="110.2" y="964.1">0</text>
<text x="110.2" y="935.6">10000</text>
<text x="110.2" y="899.8">20000</text>
<text x="110.2" y="863.9">30000</text>
<text x="110.2" y="828.1">40000</text>
<text x="110.2" y="792.2">50000</text>
<text x="110.2" y="756.3">60000</text>
<text x="110.2" y="741.6">65535</text>
</g>
<g fill="#f00">
<rect x="157" y="1192" width="11" height="2"/>
<rect x="1265" y="1192" width="20" height="2"/>
<rect x="167" y="1192" width="1" height="67"/>
<rect x="168" y="1257" width="20" height="2"/>
<rect x="188" y="1255" width="9" height="2"/>
<rect x="197" y="1256" width="90" height="2"/>
<rect x="287" y="1255" width="29" height="2"/>
<rect x="316" y="1256" width="12" height="1"/>
<rect x="328" y="1256" width="35" height="2"/>
<rect x="363" y="1255" width="18" height="2"/>
<rect x="381" y="1256" width="59" height="2"/>
<rect x="440" y="1255" width="29" height="2"/>
<rect x="469" y="1255" width="2" height="4"/>
<rect x="471" y="1255" width="49" height="2"/>
<rect x="520" y="1254" width="5" height="3"/>
<rect x="525" y="1255" width="3" height="2"/>
<rect x="528" y="1253" width="6" height="4"/>
<rect x="534" y="1255" width="16" height="2"/>
<rect x="550" y="1254" width="1" height="3"/>
<rect x="551" y="1255" width="10" height="2"/>
<rect x="561" y="1254" width="2" height="3"/>
<rect x="563" y="1255" width="27" height="2"/>
<rect x="590" y="1256" width="5" height="1"/>
<rect x="595" y="1256" width="1" height="2"/>
<rect x="596" y="1256" width="7" height="1"/>
<rect x="603" y="1255" width="1" height="3"/>
<rect x="604" y="1256" width="3" height="1"/>
<rect x="607" y="1255" width="1" height="2"/>
<rect x="608" y="1256" width="34" height="1"/>
<rect x="642" y="1256" width="14" height="2"/>
<rect x="656" y="1256" width="1" height="3"/>
<rect x="657" y="1256" width="40" height="2"/>
<rect x="697" y="1255" width="2" height="3"/>
<rect x="699" y="1256" width="83" height="2"/>
<rect x="782" y="1256" width="1" height="3"/>
<rect x="783" y="1256" width="62" height="2"/>
<rect x="845" y="1256" width="1" height="3"/>
<rect x="846" y="1256" width="347" height="2"/>
<rect x="1193" y="1255" width="12" height="2"/>
<rect x="1205" y="1255" width="1" height="1"/>
<rect x="1206" y="1254" width="7" height="2"/>
<rect x="1213" y="1253" width="5" height="2"/>
<rect x="1218" y="1252" width="2" height="2"/>
<rect x="1220" y="1252" width="1" height="7"/>
<rect x="1221" y="1251" width="3" height="2"/>
<rect x="1224" y="1250" width="3" height="2"/>
<rect x="1227" y="1249" width="2" height="2"/>
<rect x="1229" y="1248" width="1" height="2"/>
<rect x="1230" y="1247" width="1" height="3"/>
<rect x="1231" y="1247" width="1" height="2"/>
<rect x="1232" y="1246" width="1" height="3"/>
<rect x="1233" y="1245" width="1" height="3"/>
<rect x="1234" y="1245" width="1" height="2"/>
<rect x="1235" y="1244" width="1" height="2"/>
<rect x="1236" y="1243" width="1" height="3"/>
<rect x="1237" y="1242" width="1" height="3"/>
<rect x="1238" y="1241" width="1" height="3"/>
<rect x="1239" y="1240" width="1" height="3"/>
<rect x="1240" y="1239" width="1" height="3"/>
<rect x="1241" y="1238" width="1" height="3"/>
<rect x="1242" y="1236" width="1" height="3"/>
<rect x="1243" y="1235" width="1" height="3"/>
<rect x="1244" y="1233" width="1" height="4"/>
<rect x="1245" y="1232" width="1" height="3"/>
<rect x="1246" y="1230" width="1" height="3"/>
<rect x="1247" y="1228" width="1" height="4"/>
<rect x="1248" y="1226" width="1" height="4"/>
<rect x="1249" y="1224" width="1" height="4"/>
<rect x="1250" y="1222" width="1" height="4"/>
<rect x="1251" y="1219" width="1" height="4"/>
<rect x="1252" y="1217" width="1" height="4"/>
<rect x="1253" y="1214" width="1" height="4"/>
<rect x="1254" y="1211" width="1" height="4"/>
<rect x="1255" y="1212" width="1" height="46"/>
<rect x="1256" y="1256" width="9" height="2"/>
<rect x="1265" y="1192" width="2" height="69"/>
</g>
<g fill="#000">
<rect x="116" y="1192" width="4" height="2"/>
<rect x="127" y="1192" width="4" height="2"/>
<rect x="138" y="1192" width="4" height="2"/>
<rect x="149" y="1192" width="4" height="2"/>
<rect x="160" y="1192" width="4" height="2"/>
<rect x="171" y="1192" width="4" height="2"/>
<rect x="182" y="1192" width="4" height="2"/>
<rect x="193" y="1192" width="4" height="2"/>
<rect x="204" y="1192" width="4" height="2"/>
<rect x="215" y="1192" width="4" height="2"/>
<rect x="226" y="1192" width="4" height="2"/>
<rect x="237" y="1192" width="4" height="2"/>
<rect x="248" y="1192" width="4" height="2"/>
<rect x="259" y="1192" width="4" height="2"/>
<rect x="270" y="1192" width="4" height="2"/>
<rect x="281" y="1192" width="4" height="2"/>
<rect x="292" y="1192" width="4" height="2"/>
<rect x="304" y="1192" width="4" height="2"/>
<rect x="315" y="1192" width="4" height="2"/>
<rect x="326" y="1192" width="4" height="2"/>
<rect x="337" y="1192" width="4" height="2"/>
<rect x="348" y="1192" width="4" height="2"/>
<rect x="359" y="1192" width="4" height="2"/>
<rect x="370" y="1192" width="4" height="2"/>
<rect x="381" y="1192" width="4" height="2"/>
<rect x="392" y="1192" width="4" height="2"/>
<rect x="403" y="1192" width="4" height="2"/>
<rect x="414" y="1192" width="4" height="2"/>
<rect x="425" y="1192" width="4" height="2"/>
<rect x="436" y="1192" width="4" height="2"/>
<rect x="447" y="1192" width="4" height="2"/>
<rect x="458" y="1192" width="4" height="2"/>
<rect x="469" y="1192" width="4" height="2"/>
<rect x="480" y="1192" width="4" height="2"/>
<rect x="491" y="1192" width="4" height="2"/>
<rect x="502" y="1192" width="4" height="2"/>
<rect x="513" y="1192" width="4" height="2"/>
<rect x="524" y="1192" width="4" height="2"/>
<rect x="535" y="1192" width="4" height="2"/>
<rect x="546" y="1192" width="4" height="2"/>
<rect x="557" y="1192" width="4" height="2"/>
<rect x="568" y="1192" width="4" height="2"/>
<rect x="579" y="1192" width="4" height="2"/>
<rect x="590" y="1192" width="4" height="2"/>
<rect x="601" y="1192" width="4" height="2"/>
<rect x="612" y="1192" width="4" height="2"/>
<rect x="623" y="1192" width="4" height="2"/>
<rect x="634" y="1192" width="4" height="2"/>
<rect x="645" y="1192" width="4" height="2"/>
<rect x="656" y="1192" width="4" height="2"/>
<rect x="667" y="1192" width="4" height="2"/>
<rect x="679" y="1192" width="4" height="2"/>
<rect x="690" y="1192" width="4" height="2"/>
<rect x="701" y="1192" width="4" height="2"/>
<rect x="712" y="1192" width="4" height="2"/>
<rect x="723" y="1192" width="4" height="2"/>
<rect x="734" y="1192" width="4" height="2"/>
<rect x="745" y="1192" width="4" height="2"/>
<rect x="756" y="1192" width="4" height="2"/>
<rect x="767" y="1192" width="4" height="2"/>
<rect x="778" y="1192" width="4" height="2"/>
<rect x="789" y="1192" width="4" height="2"/>
<rect x="800" y="1192" width="4" height="2"/>
<rect x="811" y="1192" width="4" height="2"/>
<rect x="822" y="1192" width="4" height="2"/>
<rect x="833" y="1192" width="4" height="2"/>
<rect x="844" y="1192" width="4" height="2"/>
<rect x="855" y="1192" width="4" height="2"/>
<rect x="866" y="1192" width="4" height="2"/>
<rect x="877" y="1192" width="4" height="2"/>
<rect x="888" y="1192" width="4" height="2"/>
<rect x="899" y="1192" width="4" height="2"/>
<rect x="910" y="1192" width="4" height="2"/>
<rect x="921" y="1192" width="4" height="2"/>
<rect x="932" y="1192" width="4" height="2"/>
<rect x="943" y="1192" width="4" height="2"/>
<rect x="954" y="1192" width="4" height="2"/>
<rect x="965" y="1192" width="4" height="2"/>
<rect x="976" y="1192" width="4" height="2"/>
<rect x="987" y="1192" width="4" height="2"/>
<rect x="998" y="1192" width="4" height="2"/>
<rect x="1009" y="1192" width="4" height="2"/>
<rect x="1020" y="1192" width="4" height="2"/>
<rect x="1031" y="1192" width="4" height="2"/>
<rect x="1043" y="1192" width="4" height="2"/>
<rect x="1054" y="1192" width="4" height="2"/>
<rect x="1065" y="1192" width="4" height="2"/>
<rect x="1076" y="1192" width="4" height="2"/>
<rect x="1087" y="1192" width="4" height="2"/>
<rect x="1098" y="1192" width="4" height="2"/>
<rect x="1109" y="1192" width="4" height="2"/>
<rect x="1120" y="1192" width="4" height="2"/>
<rect x="1131" y="1192" width="4" height="2"/>
<rect x="1142" y="1192" width="4" height="2"/>
<rect x="1153" y="1192" width="4" height="2"/>
<rect x="1164" y="1192" width="4" height="2"/>
<rect x="1175" y="1192" width="4" height="2"/>
<rect x="1186" y="1192" width="4" height="2"/>
<rect x="1197" y="1192" width="4" height="2"/>
<rect x="1208" y="1192" width="4" height="2"/>
<rect x="1219" y="1192" width="4" height="2"/>
<rect x="1230" y="1192" width="4" height="2"/>
<rect x="1241" y="1192" width="4" height="2"/>
<rect x="1252" y="1192" width="4" height="2"/>
<rect x="1263" y="1192" width="4" height="2"/>
<rect x="1274" y="1192" width="4" height="2"/>
<rect x="1285" y="1192" width="4" height="2"/>
<rect x="1296" y="1192" width="4" height="2"/>
<rect x="116" y="1074" width="1189" height="2"/>
<rect x="116" y="1310" width="1189" height="1"/>
<rect x="116" y="1074" width="1" height="237"/>
<rect x="1303" y="1074" width="2" height="237"/>
<rect x="116" y="1292" width="25" height="1"/>
<rect x="1279" y="1292" width="25" height="1"/>
<rect x="116" y="1274" width="25" height="2"/>
<rect x="1279" y="1274" width="25" height="2"/>
<rect x="116" y="1256" width="25" height="2"/>
<rect x="1279" y="1256" width="25" height="2"/>
<rect x="116" y="1238" width="25" height="2"/>
<rect x="1279" y="1238" width="25" height="2"/>
<rect x="116" y="1220" width="25" height="2"/>
<rect x="1279" y="1220" width="25" height="2"/>
<rect x="116" y="1202" width="25" height="2"/>
<rect x="1279" y="1202" width="25" height="2"/>
<rect x="116" y="1184" width="25" height="2"/>
<rect x="1279" y="1184" width="25" height="2"/>
<rect x="116" y="1166" width="25" height="2"/>
<rect x="1279" y="1166" width="25" height="2"/>
<rect x="116" y="1148" width="25" height="2"/>
<rect x="1279" y="1148" width="25" height="2"/>
<rect x="116" y="1130" width="25" height="2"/>
<rect x="1279" y="1130" width="25" height="2"/>
<rect x="116" y="1112" width="25" height="2"/>
<rect x="1279" y="1112" width="25" height="2"/>
<rect x="116" y="1094" width="25" height="2"/>
<rect x="1279" y="1094" width="25" height="2"/>
<rect x="116" y="1076" width="25" height="2"/>
<rect x="1279" y="1076" width="25" height="2"/>
<rect x="178" y="1306" width="2" height="5"/>
<rect x="178" y="1074" width="2" height="7"/>
<rect x="241" y="1306" width="1" height="5"/>
<rect x="241" y="1074" width="1" height="7"/>
<rect x="303" y="1306" width="2" height="5"/>
<rect x="303" y="1074" width="2" height="7"/>
<rect x="366" y="1306" width="1" height="5"/>
<rect x="366" y="1074" width="1" height="7"/>
<rect x="428" y="1306" width="2" height="5"/>
<rect x="428" y="1074" width="2" height="7"/>
<rect x="491" y="1306" width="1" height="5"/>
<rect x="491" y="1074" width="1" height="7"/>
<rect x="553" y="1306" width="2" height="5"/>
<rect x="553" y="1074" width="2" height="7"/>
<rect x="616" y="1306" width="1" height="5"/>
<rect x="616" y="1074" width="1" height="7"/>
<rect x="678" y="1306" width="2" height="5"/>
<rect x="678" y="1074" width="2" height="7"/>
<rect x="741" y="1306" width="1" height="5"/>
<rect x="741" y="1074" width="1" height="7"/>
<rect x="803" y="1306" width="2" height="5"/>
<rect x="803" y="1074" width="2" height="7"/>
<rect x="866" y="1306" width="1" height="5"/>
<rect x="866" y="1074" width="1" height="7"/>
<rect x="928" y="1306" width="2" height="5"/>
<rect x="928" y="1074" width="2" height="7"/>
<rect x="991" y="1306" width="1" height="5"/>
<rect x="991" y="1074" width="1" height="7"/>
<rect x="1053" y="1306" width="2" height="5"/>
<rect x="1053" y="1074" width="2" height="7"/>
<rect x="1116" y="1306" width="1" height="5"/>
<rect x="1116" y="1074" width="1" height="7"/>
<rect x="1178" y="1306" width="2" height="5"/>
<rect x="1178" y="1074" width="2" height="7"/>
<rect x="1241" y="1306" width="1" height="5"/>
<rect x="1241" y="1074" width="1" height="7"/>
</g>
<text transform="translate(708.9,1064.3) scale(1.02,1)" font-size="27.2" text-anchor="middle" class="tt">777.4 nm (HV = 80)</text>
<text x="1250.3" y="1122.0" font-size="44.1" text-anchor="end" class="tb">777.4 nm</text>
<text x="710" y="1362.4" font-size="22.3" text-anchor="middle" class="tx">Time (UT)</text>
<text transform="translate(30.6,1193.0) rotate(-90) scale(1,1.05)" font-size="22.3" text-anchor="middle">Counts</text>
<g font-size="22.3" text-anchor="middle" class="tx">
<text x="116.5" y="1338.2">13</text>
<text x="179.0" y="1338.2">14</text>
<text x="241.5" y="1338.2">15</text>
<text x="304.0" y="1338.2">16</text>
<text x="366.5" y="1338.2">17</text>
<text x="429.0" y="1338.2">18</text>
<text x="491.5" y="1338.2">19</text>
<text x="554.0" y="1338.2">20</text>
<text x="616.5" y="1338.2">21</text>
<text x="679.0" y="1338.2">22</text>
<text x="741.5" y="1338.2">23</text>
<text x="804.0" y="1338.2">0</text>
<text x="866.5" y="1338.2">1</text>
<text x="929.0" y="1338.2">2</text>
<text x="991.5" y="1338.2">3</text>
<text x="1054.0" y="1338.2">4</text>
<text x="1116.5" y="1338.2">5</text>
<text x="1179.0" y="1338.2">6</text>
<text x="1241.5" y="1338.2">7</text>
<text x="1304.0" y="1338.2">8</text>
</g>
<g font-size="22.3" text-anchor="end" class="ty">
<text x="110.2" y="1311.1">0</text>
<text x="110.2" y="1282.5">10000</text>
<text x="110.2" y="1246.6">20000</text>
<text x="110.2" y="1210.7">30000</text>
<text x="110.2" y="1174.8">40000</text>
<text x="110.2" y="1138.9">50000</text>
<text x="110.2" y="1102.9">60000</text>
<text x="110.2" y="1088.2">65535</text>
</g>
<g fill="#f00">
<rect x="157" y="1538" width="11" height="2"/>
<rect x="1265" y="1538" width="20" height="2"/>
<rect x="167" y="1538" width="1" height="56"/>
<rect x="168" y="1592" width="20" height="2"/>
<rect x="188" y="1590" width="3" height="3"/>
<rect x="191" y="1591" width="71" height="2"/>
<rect x="262" y="1590" width="2" height="3"/>
<rect x="264" y="1591" width="14" height="2"/>
<rect x="278" y="1590" width="51" height="2"/>
<rect x="329" y="1591" width="14" height="2"/>
<rect x="343" y="1590" width="1" height="3"/>
<rect x="344" y="1591" width="7" height="2"/>
<rect x="351" y="1590" width="1" height="3"/>
<rect x="352" y="1591" width="8" height="2"/>
<rect x="360" y="1590" width="33" height="2"/>
<rect x="393" y="1589" width="6" height="2"/>
<rect x="399" y="1589" width="1" height="3"/>
<rect x="400" y="1589" width="12" height="2"/>
<rect x="412" y="1589" width="3" height="3"/>
<rect x="415" y="1589" width="15" height="2"/>
<rect x="430" y="1589" width="2" height="3"/>
<rect x="432" y="1589" width="23" height="2"/>
<rect x="455" y="1588" width="2" height="3"/>
<rect x="457" y="1589" width="5" height="2"/>
<rect x="462" y="1589" width="1" height="3"/>
<rect x="463" y="1589" width="8" height="2"/>
<rect x="471" y="1588" width="2" height="3"/>
<rect x="473" y="1589" width="9" height="2"/>
<rect x="482" y="1588" width="2" height="3"/>
<rect x="484" y="1589" width="6" height="2"/>
<rect x="490" y="1589" width="2" height="3"/>
<rect x="492" y="1589" width="8" height="2"/>
<rect x="500" y="1588" width="4" height="3"/>
<rect x="504" y="1589" width="4" height="2"/>
<rect x="508" y="1588" width="5" height="3"/>
<rect x="513" y="1589" width="5" height="2"/>
<rect x="518" y="1589" width="2" height="3"/>
<rect x="520" y="1589" width="5" height="2"/>
<rect x="525" y="1588" width="5" height="3"/>
<rect x="530" y="1587" width="2" height="6"/>
<rect x="532" y="1588" width="1" height="3"/>
<rect x="533" y="1589" width="7" height="2"/>
<rect x="540" y="1589" width="2" height="3"/>
<rect x="542" y="1589" width="11" height="2"/>
<rect x="553" y="1588" width="13" height="3"/>
<rect x="566" y="1589" width="2" height="2"/>
<rect x="568" y="1589" width="2" height="3"/>
<rect x="570" y="1589" width="4" height="2"/>
<rect x="574" y="1590" width="38" height="2"/>
<rect x="612" y="1591" width="54" height="2"/>
<rect x="666" y="1590" width="91" height="2"/>
<rect x="757" y="1591" width="50" height="2"/>
<rect x="807" y="1590" width="1" height="3"/>
<rect x="808" y="1591" width="43" height="2"/>
<rect x="851" y="1590" width="2" height="2"/>
<rect x="853" y="1590" width="1" height="3"/>
<rect x="854" y="1590" width="4" height="2"/>
<rect x="858" y="1590" width="1" height="3"/>
<rect x="859" y="1590" width="4" height="2"/>
<rect x="863" y="1590" width="1" height="3"/>
<rect x="864" y="1590" width="4" height="2"/>
<rect x="868" y="1590" width="1" height="3"/>
<rect x="869" y="1590" width="4" height="2"/>
<rect x="873" y="1590" width="1" height="3"/>
<rect x="874" y="1590" width="4" height="2"/>
<rect x="878" y="1590" width="1" height="3"/>
<rect x="879" y="1590" width="4" height="2"/>
<rect x="883" y="1590" width="1" height="3"/>
<rect x="884" y="1590" width="4" height="2"/>
<rect x="888" y="1590" width="1" height="3"/>
<rect x="889" y="1590" width="4" height="2"/>
<rect x="893" y="1590" width="1" height="3"/>
<rect x="894" y="1590" width="4" height="2"/>
<rect x="898" y="1590" width="1" height="3"/>
<rect x="899" y="1590" width="4" height="2"/>
<rect x="903" y="1590" width="1" height="3"/>
<rect x="904" y="1590" width="4" height="2"/>
<rect x="908" y="1590" width="1" height="3"/>
<rect x="909" y="1590" width="4" height="2"/>
<rect x="913" y="1590" width="1" height="3"/>
<rect x="914" y="1590" width="4" height="2"/>
<rect x="918" y="1590" width="1" height="3"/>
<rect x="919" y="1590" width="4" height="2"/>
<rect x="923" y="1590" width="1" height="3"/>
<rect x="924" y="1590" width="4" height="2"/>
<rect x="928" y="1590" width="1" height="3"/>
<rect x="929" y="1590" width="4" height="2"/>
<rect x="933" y="1590" width="1" height="3"/>
<rect x="934" y="1590" width="262" height="2"/>
<rect x="1196" y="1589" width="11" height="2"/>
<rect x="1207" y="1589" width="2" height="1"/>
<rect x="1209" y="1588" width="6" height="2"/>
<rect x="1215" y="1588" width="1" height="1"/>
<rect x="1216" y="1587" width="3" height="2"/>
<rect x="1219" y="1587" width="2" height="6"/>
<rect x="1221" y="1586" width="4" height="2"/>
<rect x="1225" y="1585" width="3" height="2"/>
<rect x="1228" y="1584" width="3" height="2"/>
<rect x="1231" y="1583" width="2" height="2"/>
<rect x="1233" y="1582" width="2" height="2"/>
<rect x="1235" y="1581" width="1" height="2"/>
<rect x="1236" y="1580" width="1" height="3"/>
<rect x="1237" y="1580" width="1" height="2"/>
<rect x="1238" y="1579" width="1" height="2"/>
<rect x="1239" y="1578" width="1" height="3"/>
<rect x="1240" y="1578" width="1" height="2"/>
<rect x="1241" y="1577" width="1" height="2"/>
<rect x="1242" y="1576" width="1" height="2"/>
<rect x="1243" y="1575" width="1" height="3"/>
<rect x="1244" y="1574" width="1" height="3"/>
<rect x="1245" y="1573" width="1" height="3"/>
<rect x="1246" y="1572" width="1" height="2"/>
<rect x="1247" y="1570" width="1" height="3"/>
<rect x="1248" y="1569" width="1" height="3"/>
<rect x="1249" y="1568" width="1" height="3"/>
<rect x="1250" y="1566" width="1" height="3"/>
<rect x="1251" y="1565" width="1" height="3"/>
<rect x="1252" y="1563" width="1" height="3"/>
<rect x="1253" y="1561" width="1" height="4"/>
<rect x="1254" y="1559" width="1" height="33"/>
<rect x="1255" y="1560" width="1" height="32"/>
<rect x="1256" y="1591" width="1" height="1"/>
<rect x="1257" y="1591" width="1" height="2"/>
<rect x="1258" y="1591" width="2" height="1"/>
<rect x="1260" y="1591" width="2" height="2"/>
<rect x="1262" y="1591" width="3" height="1"/>
<rect x="1265" y="1538" width="2" height="77"/>
</g>
<g fill="#000">
<rect x="116" y="1538" width="4" height="2"/>
<rect x="127" y="1538" width="4" height="2"/>
<rect x="138" y="1538" width="4" height="2"/>
<rect x="149" y="1538" width="4" height="2"/>
<rect x="160" y="1538" width="4" height="2"/>
<rect x="171" y="1538" width="4" height="2"/>
<rect x="182" y="1538" width="4" height="2"/>
<rect x="193" y="1538" width="4" height="2"/>
<rect x="204" y="1538" width="4" height="2"/>
<rect x="215" y="1538" width="4" height="2"/>
<rect x="226" y="1538" width="4" height="2"/>
<rect x="237" y="1538" width="4" height="2"/>
<rect x="248" y="1538" width="4" height="2"/>
<rect x="259" y="1538" width="4" height="2"/>
<rect x="270" y="1538" width="4" height="2"/>
<rect x="281" y="1538" width="4" height="2"/>
<rect x="292" y="1538" width="4" height="2"/>
<rect x="304" y="1538" width="4" height="2"/>
<rect x="315" y="1538" width="4" height="2"/>
<rect x="326" y="1538" width="4" height="2"/>
<rect x="337" y="1538" width="4" height="2"/>
<rect x="348" y="1538" width="4" height="2"/>
<rect x="359" y="1538" width="4" height="2"/>
<rect x="370" y="1538" width="4" height="2"/>
<rect x="381" y="1538" width="4" height="2"/>
<rect x="392" y="1538" width="4" height="2"/>
<rect x="403" y="1538" width="4" height="2"/>
<rect x="414" y="1538" width="4" height="2"/>
<rect x="425" y="1538" width="4" height="2"/>
<rect x="436" y="1538" width="4" height="2"/>
<rect x="447" y="1538" width="4" height="2"/>
<rect x="458" y="1538" width="4" height="2"/>
<rect x="469" y="1538" width="4" height="2"/>
<rect x="480" y="1538" width="4" height="2"/>
<rect x="491" y="1538" width="4" height="2"/>
<rect x="502" y="1538" width="4" height="2"/>
<rect x="513" y="1538" width="4" height="2"/>
<rect x="524" y="1538" width="4" height="2"/>
<rect x="535" y="1538" width="4" height="2"/>
<rect x="546" y="1538" width="4" height="2"/>
<rect x="557" y="1538" width="4" height="2"/>
<rect x="568" y="1538" width="4" height="2"/>
<rect x="579" y="1538" width="4" height="2"/>
<rect x="590" y="1538" width="4" height="2"/>
<rect x="601" y="1538" width="4" height="2"/>
<rect x="612" y="1538" width="4" height="2"/>
<rect x="623" y="1538" width="4" height="2"/>
<rect x="634" y="1538" width="4" height="2"/>
<rect x="645" y="1538" width="4" height="2"/>
<rect x="656" y="1538" width="4" height="2"/>
<rect x="667" y="1538" width="4" height="2"/>
<rect x="679" y="1538" width="4" height="2"/>
<rect x="690" y="1538" width="4" height="2"/>
<rect x="701" y="1538" width="4" height="2"/>
<rect x="712" y="1538" width="4" height="2"/>
<rect x="723" y="1538" width="4" height="2"/>
<rect x="734" y="1538" width="4" height="2"/>
<rect x="745" y="1538" width="4" height="2"/>
<rect x="756" y="1538" width="4" height="2"/>
<rect x="767" y="1538" width="4" height="2"/>
<rect x="778" y="1538" width="4" height="2"/>
<rect x="789" y="1538" width="4" height="2"/>
<rect x="800" y="1538" width="4" height="2"/>
<rect x="811" y="1538" width="4" height="2"/>
<rect x="822" y="1538" width="4" height="2"/>
<rect x="833" y="1538" width="4" height="2"/>
<rect x="844" y="1538" width="4" height="2"/>
<rect x="855" y="1538" width="4" height="2"/>
<rect x="866" y="1538" width="4" height="2"/>
<rect x="877" y="1538" width="4" height="2"/>
<rect x="888" y="1538" width="4" height="2"/>
<rect x="899" y="1538" width="4" height="2"/>
<rect x="910" y="1538" width="4" height="2"/>
<rect x="921" y="1538" width="4" height="2"/>
<rect x="932" y="1538" width="4" height="2"/>
<rect x="943" y="1538" width="4" height="2"/>
<rect x="954" y="1538" width="4" height="2"/>
<rect x="965" y="1538" width="4" height="2"/>
<rect x="976" y="1538" width="4" height="2"/>
<rect x="987" y="1538" width="4" height="2"/>
<rect x="998" y="1538" width="4" height="2"/>
<rect x="1009" y="1538" width="4" height="2"/>
<rect x="1020" y="1538" width="4" height="2"/>
<rect x="1031" y="1538" width="4" height="2"/>
<rect x="1043" y="1538" width="4" height="2"/>
<rect x="1054" y="1538" width="4" height="2"/>
<rect x="1065" y="1538" width="4" height="2"/>
<rect x="1076" y="1538" width="4" height="2"/>
<rect x="1087" y="1538" width="4" height="2"/>
<rect x="1098" y="1538" width="4" height="2"/>
<rect x="1109" y="1538" width="4" height="2"/>
<rect x="1120" y="1538" width="4" height="2"/>
<rect x="1131" y="1538" width="4" height="2"/>
<rect x="1142" y="1538" width="4" height="2"/>
<rect x="1153" y="1538" width="4" height="2"/>
<rect x="1164" y="1538" width="4" height="2"/>
<rect x="1175" y="1538" width="4" height="2"/>
<rect x="1186" y="1538" width="4" height="2"/>
<rect x="1197" y="1538" width="4" height="2"/>
<rect x="1208" y="1538" width="4" height="2"/>
<rect x="1219" y="1538" width="4" height="2"/>
<rect x="1230" y="1538" width="4" height="2"/>
<rect x="1241" y="1538" width="4" height="2"/>
<rect x="1252" y="1538" width="4" height="2"/>
<rect x="1263" y="1538" width="4" height="2"/>
<rect x="1274" y="1538" width="4" height="2"/>
<rect x="1285" y="1538" width="4" height="2"/>
<rect x="1296" y="1538" width="4" height="2"/>
<rect x="116" y="1421" width="1189" height="1"/>
<rect x="116" y="1656" width="1189" height="2"/>
<rect x="116" y="1421" width="1" height="237"/>
<rect x="1303" y="1421" width="2" height="237"/>
<rect x="116" y="1638" width="25" height="2"/>
<rect x="1279" y="1638" width="25" height="2"/>
<rect x="116" y="1620" width="25" height="2"/>
<rect x="1279" y="1620" width="25" height="2"/>
<rect x="116" y="1602" width="25" height="2"/>
<rect x="1279" y="1602" width="25" height="2"/>
<rect x="116" y="1584" width="25" height="2"/>
<rect x="1279" y="1584" width="25" height="2"/>
<rect x="116" y="1566" width="25" height="2"/>
<rect x="1279" y="1566" width="25" height="2"/>
<rect x="116" y="1548" width="25" height="2"/>
<rect x="1279" y="1548" width="25" height="2"/>
<rect x="116" y="1530" width="25" height="2"/>
<rect x="1279" y="1530" width="25" height="2"/>
<rect x="116" y="1512" width="25" height="2"/>
<rect x="1279" y="1512" width="25" height="2"/>
<rect x="116" y="1494" width="25" height="2"/>
<rect x="1279" y="1494" width="25" height="2"/>
<rect x="116" y="1476" width="25" height="2"/>
<rect x="1279" y="1476" width="25" height="2"/>
<rect x="116" y="1459" width="25" height="1"/>
<rect x="1279" y="1459" width="25" height="1"/>
<rect x="116" y="1441" width="25" height="1"/>
<rect x="1279" y="1441" width="25" height="1"/>
<rect x="116" y="1423" width="25" height="1"/>
<rect x="1279" y="1423" width="25" height="1"/>
<rect x="178" y="1652" width="2" height="6"/>
<rect x="178" y="1421" width="2" height="6"/>
<rect x="241" y="1652" width="1" height="6"/>
<rect x="241" y="1421" width="1" height="6"/>
<rect x="303" y="1652" width="2" height="6"/>
<rect x="303" y="1421" width="2" height="6"/>
<rect x="366" y="1652" width="1" height="6"/>
<rect x="366" y="1421" width="1" height="6"/>
<rect x="428" y="1652" width="2" height="6"/>
<rect x="428" y="1421" width="2" height="6"/>
<rect x="491" y="1652" width="1" height="6"/>
<rect x="491" y="1421" width="1" height="6"/>
<rect x="553" y="1652" width="2" height="6"/>
<rect x="553" y="1421" width="2" height="6"/>
<rect x="616" y="1652" width="1" height="6"/>
<rect x="616" y="1421" width="1" height="6"/>
<rect x="678" y="1652" width="2" height="6"/>
<rect x="678" y="1421" width="2" height="6"/>
<rect x="741" y="1652" width="1" height="6"/>
<rect x="741" y="1421" width="1" height="6"/>
<rect x="803" y="1652" width="2" height="6"/>
<rect x="803" y="1421" width="2" height="6"/>
<rect x="866" y="1652" width="1" height="6"/>
<rect x="866" y="1421" width="1" height="6"/>
<rect x="928" y="1652" width="2" height="6"/>
<rect x="928" y="1421" width="2" height="6"/>
<rect x="991" y="1652" width="1" height="6"/>
<rect x="991" y="1421" width="1" height="6"/>
<rect x="1053" y="1652" width="2" height="6"/>
<rect x="1053" y="1421" width="2" height="6"/>
<rect x="1116" y="1652" width="1" height="6"/>
<rect x="1116" y="1421" width="1" height="6"/>
<rect x="1178" y="1652" width="2" height="6"/>
<rect x="1178" y="1421" width="2" height="6"/>
<rect x="1241" y="1652" width="1" height="6"/>
<rect x="1241" y="1421" width="1" height="6"/>
</g>
<text transform="translate(708.9,1410.6) scale(1.02,1)" font-size="27.2" text-anchor="middle" class="tt">844.6 nm (HV = 75)</text>
<text x="1250.3" y="1468.2" font-size="44.1" text-anchor="end" class="tb">844.6 nm</text>
<text x="710" y="1708.5" font-size="22.3" text-anchor="middle" class="tx">Time (UT)</text>
<text transform="translate(30.6,1539.1) rotate(-90) scale(1,1.05)" font-size="22.3" text-anchor="middle">Counts</text>
<g font-size="22.3" text-anchor="middle" class="tx">
<text x="116.5" y="1684.3">13</text>
<text x="179.0" y="1684.3">14</text>
<text x="241.5" y="1684.3">15</text>
<text x="304.0" y="1684.3">16</text>
<text x="366.5" y="1684.3">17</text>
<text x="429.0" y="1684.3">18</text>
<text x="491.5" y="1684.3">19</text>
<text x="554.0" y="1684.3">20</text>
<text x="616.5" y="1684.3">21</text>
<text x="679.0" y="1684.3">22</text>
<text x="741.5" y="1684.3">23</text>
<text x="804.0" y="1684.3">0</text>
<text x="866.5" y="1684.3">1</text>
<text x="929.0" y="1684.3">2</text>
<text x="991.5" y="1684.3">3</text>
<text x="1054.0" y="1684.3">4</text>
<text x="1116.5" y="1684.3">5</text>
<text x="1179.0" y="1684.3">6</text>
<text x="1241.5" y="1684.3">7</text>
<text x="1304.0" y="1684.3">8</text>
</g>
<g font-size="22.3" text-anchor="end" class="ty">
<text x="110.2" y="1657.2">0</text>
<text x="110.2" y="1628.7">10000</text>
<text x="110.2" y="1592.8">20000</text>
<text x="110.2" y="1556.9">30000</text>
<text x="110.2" y="1521.0">40000</text>
<text x="110.2" y="1485.1">50000</text>
<text x="110.2" y="1449.2">60000</text>
<text x="110.2" y="1434.4">65535</text>
</g>
</svg>
</body></html>
